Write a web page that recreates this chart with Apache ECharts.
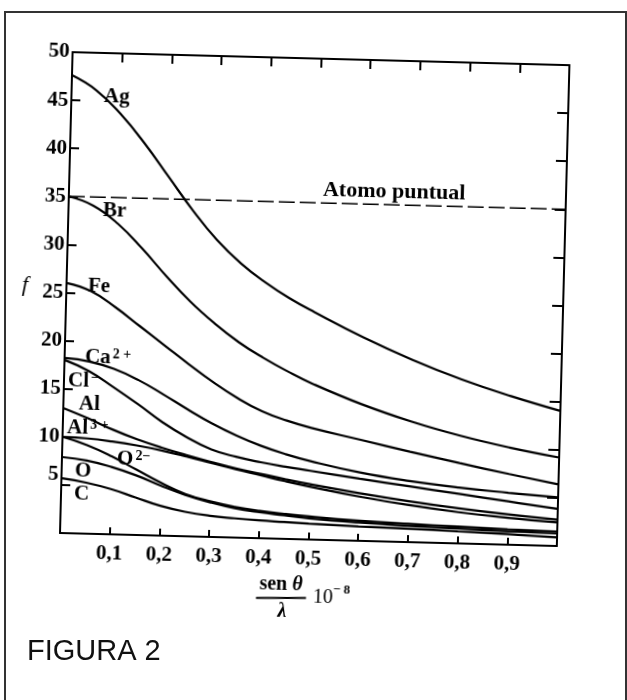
<!DOCTYPE html>
<html>
<head>
<meta charset="utf-8">
<script src="https://cdn.jsdelivr.net/npm/echarts@6/dist/echarts.min.js"></script>
<style>
html,body{margin:0;padding:0;background:#fff;}
#bg,#chart{position:absolute;left:0;top:0;width:627px;height:700px;}
#chart{transform:rotate(1.5deg);transform-origin:60px 533px;}
</style>
</head>
<body>
<div id="bg"></div>
<div id="chart"></div>
<script>
// ---- data (x = sen(theta)/lambda * 1e-8, y = f) ----
const xValues = [0, 0.05, 0.1, 0.15, 0.2, 0.25, 0.3, 0.35, 0.4, 0.45, 0.5, 0.6, 0.7, 0.8, 0.9, 1.0];
const fAg   = [47.6, 46.1, 43.7, 40.7, 37.3, 33.9, 30.9, 28.5, 26.6, 25.0, 23.65, 21.15, 18.95, 17.05, 15.45, 14.05];
const fBr   = [35.0, 34.1, 32.3, 29.8, 27.0, 24.4, 22.2, 20.3, 18.75, 17.4, 16.2, 14.2, 12.55, 11.2, 10.1, 9.2];
const fFe   = [26.0, 25.2, 23.6, 21.7, 19.8, 17.9, 16.1, 14.5, 13.2, 12.3, 11.6, 10.5, 9.4, 8.35, 7.35, 6.4];
const fCa2p = [18.2, 17.9, 17.2, 16.1, 14.7, 13.2, 11.8, 10.6, 9.6, 8.8, 8.15, 7.1, 6.35, 5.8, 5.4, 5.05];
const fClm  = [18.0, 16.9, 15.3, 13.6, 11.8, 10.3, 9.1, 8.4, 7.9, 7.5, 7.15, 6.45, 5.8, 5.15, 4.5, 3.85];
const fAl   = [13.0, 12.0, 10.9, 9.95, 9.15, 8.45, 7.8, 7.2, 6.7, 6.2, 5.75, 4.95, 4.25, 3.65, 3.15, 2.75];
const fAl3p = [10.0, 9.9, 9.65, 9.3, 8.85, 8.3, 7.7, 7.1, 6.55, 6.0, 5.5, 4.6, 3.85, 3.25, 2.8, 2.45];
const fO2m  = [10.0, 9.2, 8.1, 6.8, 5.5, 4.4, 3.7, 3.2, 2.85, 2.6, 2.4, 2.1, 1.9, 1.75, 1.6, 1.5];
const fO    = [7.9, 7.6, 7.0, 6.2, 5.2, 4.3, 3.6, 3.05, 2.7, 2.45, 2.2, 1.9, 1.7, 1.55, 1.4, 1.3];
const fC    = [5.7, 5.3, 4.7, 3.9, 3.1, 2.55, 2.2, 2.0, 1.85, 1.75, 1.65, 1.5, 1.4, 1.25, 1.1, 0.9];
const pointAtomX = [0, 1];
const pointAtomF = [35, 35];
const xTickInterval = 0.1;
const yTickInterval = 5;

// ---- rotation of the scanned figure ----
const DEG = 1.5, RAD = DEG * Math.PI / 180, CO = Math.cos(RAD), SI = Math.sin(RAD);
const OX = 60, OY = 533;
function inv(sx, sy) {
  const dx = sx - OX, dy = sy - OY;
  return [OX + dx * CO + dy * SI, OY - dx * SI + dy * CO];
}

const SERIF = '"Liberation Serif", "DejaVu Serif", serif';
const baseTok = {fontSize: 21, fontFamily: SERIF, fontWeight: 'bold', fill: '#000'};
const supTok = {fontSize: 14, fontFamily: SERIF, fontWeight: 'bold', fill: '#000', verticalAlign: 'top', padding: [0, 0, 0, 2]};

function label(sx, sy, base, sup) {
  const p = inv(sx, sy);
  const txt = sup ? '{b|' + base + '}{s|' + sup + '}' : '{b|' + base + '}';
  return {
    type: 'text', x: p[0], y: p[1], silent: true,
    style: {text: txt, rich: {b: baseTok, s: supTok},
            align: 'left', verticalAlign: 'middle', textAlign: 'left', textVerticalAlign: 'middle'}
  };
}

function mk(name, arr) {
  return {
    name: name, type: 'line', data: xValues.map((x, i) => [x, arr[i]]),
    smooth: 0.45, symbol: 'none', silent: true,
    lineStyle: {color: '#000', width: 2.2}
  };
}

// ---- background: frame and caption ----
const bg = echarts.init(document.getElementById('bg'));
bg.setOption({
  animation: false,
  backgroundColor: '#fff',
  graphic: [
    {type: 'rect', shape: {x: 5, y: 12, width: 621, height: 720}, silent: true,
     style: {fill: 'none', stroke: '#333', lineWidth: 2}},
    {type: 'text', x: 27, y: 652, silent: true,
     style: {text: 'FIGURA 2', fontSize: 29, fontFamily: '"Liberation Sans", Arial, sans-serif',
             fill: '#111', align: 'left', verticalAlign: 'middle', textAlign: 'left', textVerticalAlign: 'middle'}}
  ]
});

// ---- chart ----
const chart = echarts.init(document.getElementById('chart'));
const axisLine = {show: true, onZero: false, lineStyle: {color: '#000', width: 2}};
const xPos = inv(281, 585), barL = inv(256, 598), barR = inv(306, 598), lam = inv(282, 612);
const ten = inv(313, 597), sup8 = inv(333, 590), fPos = inv(22, 285), atomo = inv(323, 190);
const yLabStyle = {fontSize: 21, fontFamily: SERIF, fontWeight: 'bold', color: '#000'};

chart.setOption({
  animation: false,
  backgroundColor: 'transparent',
  grid: {left: 60, top: 52, width: 497, height: 481},
  xAxis: [
    {type: 'value', min: 0, max: 1, interval: xTickInterval, position: 'bottom',
     axisLine: axisLine,
     axisTick: {inside: true, length: 7, lineStyle: {color: '#000', width: 2}},
     axisLabel: {margin: 9, fontSize: 21, fontFamily: SERIF, fontWeight: 'bold', color: '#000',
                 formatter: v => (v < 0.001 || v > 0.999) ? '' : v.toFixed(1).replace('.', ',')},
     splitLine: {show: false}},
    {type: 'value', min: 0, max: 1, interval: xTickInterval, position: 'top',
     axisLine: axisLine,
     axisTick: {inside: true, length: 9, lineStyle: {color: '#000', width: 2}},
     axisLabel: {show: false}, splitLine: {show: false}}
  ],
  yAxis: [
    {type: 'value', min: 0, max: 50, interval: yTickInterval, position: 'left',
     axisLine: axisLine,
     axisTick: {inside: true, length: 9, lineStyle: {color: '#000', width: 2}},
     axisLabel: Object.assign({margin: 3,
                 formatter: v => v === 0 ? '' : (v === 5 ? '{up|5}' : String(v)),
                 rich: {up: Object.assign({padding: [0, 0, 20, 0]}, yLabStyle)}}, yLabStyle),
     splitLine: {show: false}},
    {type: 'value', min: 0, max: 50, interval: yTickInterval, position: 'right',
     axisLine: axisLine,
     axisTick: {inside: true, length: 11, lineStyle: {color: '#000', width: 2}},
     axisLabel: {show: false}, splitLine: {show: false}}
  ],
  series: [
    mk('Ag', fAg), mk('Br', fBr), mk('Fe', fFe), mk('Ca2+', fCa2p), mk('Cl-', fClm),
    mk('Al', fAl), mk('Al3+', fAl3p), mk('O2-', fO2m), mk('O', fO), mk('C', fC),
    {name: 'Atomo puntual', type: 'line', silent: true, symbol: 'none',
     data: pointAtomX.map((x, i) => [x, pointAtomF[i]]),
     lineStyle: {color: '#000', width: 1.6, type: [16, 5]}}
  ],
  graphic: [
    label(104, 97, 'Ag'),
    label(103, 211, 'Br'),
    label(88, 286, 'Fe'),
    label(85, 357, 'Ca', '2 +'),
    label(68, 381, 'Cl', '\u2212'),
    label(79, 404, 'Al'),
    label(67, 428, 'Al', '3 +'),
    label(117, 459, 'O', '2\u2212'),
    label(75, 471, 'O'),
    label(74, 494, 'C'),
    {type: 'text', x: atomo[0], y: atomo[1], silent: true,
     style: {text: 'Atomo puntual', fontSize: 22, fontFamily: SERIF, fontWeight: 'bold', fill: '#000',
             align: 'left', verticalAlign: 'middle', textAlign: 'left', textVerticalAlign: 'middle'}},
    {type: 'text', x: fPos[0], y: fPos[1], silent: true,
     style: {text: 'f', fontSize: 22, fontFamily: SERIF, fontStyle: 'italic', fill: '#000',
             align: 'left', verticalAlign: 'middle', textAlign: 'left', textVerticalAlign: 'middle'}},
    {type: 'text', x: xPos[0], y: xPos[1], silent: true,
     style: {text: '{b|sen }{i|\u03b8}',
             rich: {b: {fontSize: 20, fontFamily: SERIF, fontWeight: 'bold', fill: '#000'},
                    i: {fontSize: 20, fontFamily: SERIF, fontWeight: 'bold', fontStyle: 'italic', fill: '#000'}},
             align: 'center', verticalAlign: 'middle', textAlign: 'center', textVerticalAlign: 'middle'}},
    {type: 'line', silent: true, shape: {x1: barL[0], y1: barL[1], x2: barR[0], y2: barR[1]},
     style: {stroke: '#000', lineWidth: 2}},
    {type: 'text', x: lam[0], y: lam[1], silent: true,
     style: {text: '\u03bb', fontSize: 20, fontFamily: SERIF, fontWeight: 'bold', fontStyle: 'italic', fill: '#000',
             align: 'center', verticalAlign: 'middle', textAlign: 'center', textVerticalAlign: 'middle'}},
    {type: 'text', x: ten[0], y: ten[1], silent: true,
     style: {text: '10', fontSize: 20, fontFamily: SERIF, fill: '#000',
             align: 'left', verticalAlign: 'middle', textAlign: 'left', textVerticalAlign: 'middle'}},
    {type: 'text', x: sup8[0], y: sup8[1], silent: true,
     style: {text: '\u2212 8', fontSize: 13, fontFamily: SERIF, fontWeight: 'bold', fill: '#000',
             align: 'left', verticalAlign: 'middle', textAlign: 'left', textVerticalAlign: 'middle'}}
  ]
});
</script>
</body>
</html>
